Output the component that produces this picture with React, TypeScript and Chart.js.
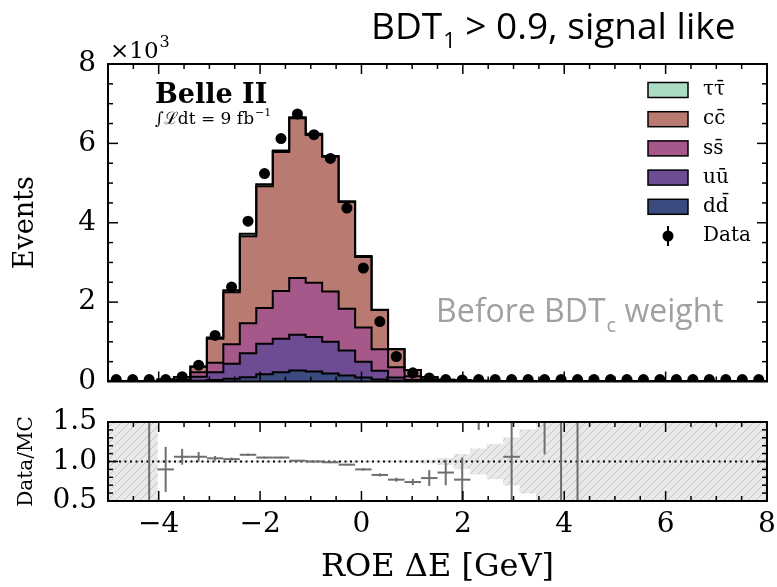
import React, { useEffect, useRef } from 'react';
import { Chart, registerables } from 'chart.js';

Chart.register(...registerables);

// ---------- data ----------
const binEdges = [-5, -4.675, -4.35, -4.025, -3.7, -3.375, -3.05, -2.725, -2.4, -2.075, -1.75, -1.425, -1.1, -0.775, -0.45, -0.125, 0.2, 0.525, 0.85, 1.175, 1.5, 1.825, 2.15, 2.475, 2.8, 3.125, 3.45, 3.775, 4.1, 4.425, 4.75, 5.075, 5.4, 5.725, 6.05, 6.375, 6.7, 7.025, 7.35, 7.675, 8];

const xTickValues = [-4, -2, 0, 2, 4, 6, 8];
const yTickValues = [0, 2, 4, 6, 8];
const ratioTickValues = [0.5, 1.0, 1.5];

// events per bin (x10^3)
const ddEvents = [0, 0, 0, 0, 0.005, 0.02, 0.04, 0.07, 0.11, 0.18, 0.23, 0.28, 0.25, 0.2, 0.15, 0.1, 0.05, 0.02, 0.01, 0.005, 0, 0, 0, 0, 0, 0, 0, 0, 0, 0, 0, 0, 0, 0, 0, 0, 0, 0, 0, 0];
const uuEvents = [0, 0, 0, 0.005, 0.01, 0.1, 0.19, 0.38, 0.6, 0.77, 0.85, 0.9, 0.87, 0.8, 0.63, 0.4, 0.22, 0.08, 0.03, 0.01, 0.01, 0.005, 0, 0, 0, 0, 0, 0, 0, 0, 0, 0, 0, 0, 0, 0, 0, 0, 0, 0];
const ssEvents = [0, 0, 0, 0.01, 0.02, 0.11, 0.24, 0.49, 0.76, 0.9, 1.2, 1.43, 1.37, 1.27, 1.05, 0.86, 0.54, 0.26, 0.09, 0.03, 0.01, 0.005, 0, 0, 0, 0, 0, 0, 0, 0, 0, 0, 0, 0, 0, 0, 0, 0, 0, 0];
const ccEvents = [0, 0, 0.002, 0.035, 0.075, 0.14, 0.61, 1.31, 2.19, 3.07, 3.5, 4.02, 3.72, 3.39, 2.69, 1.78, 0.99, 0.45, 0.16, 0.065, 0.027, 0.03, 0.02, 0.015, 0.01, 0.01, 0.008, 0.005, 0.005, 0, 0, 0, 0, 0, 0, 0, 0, 0, 0, 0];
const tautauEvents = [0, 0, 0, 0, 0, 0.01, 0.03, 0.05, 0.06, 0.05, 0.04, 0.03, 0.03, 0.02, 0.02, 0.02, 0.01, 0.01, 0, 0, 0, 0, 0, 0, 0, 0, 0, 0, 0, 0, 0, 0, 0, 0, 0, 0, 0, 0, 0, 0];
const dataEvents = [0.05, 0.05, 0.05, 0.05, 0.12, 0.41, 1.16, 2.38, 4.04, 5.24, 6.12, 6.74, 6.22, 5.62, 4.37, 2.86, 1.51, 0.63, 0.22, 0.09, 0.05, 0.04, 0.05, 0.05, 0.05, 0.05, 0.05, 0.05, 0.05, 0.05, 0.05, 0.05, 0.05, 0.05, 0.05, 0.05, 0.05, 0.05, 0.05, 0.05];

// Data/MC ratio per bin
const ratioValues = [null, null, 1.8, 0.9, 1.06, 1.06, 1.04, 1.03, 1.085, 1.05, 1.05, 1.01, 1.0, 0.99, 0.96, 0.9, 0.83, 0.77, 0.74, 0.79, 0.86, 0.77, 2.2, null, 1.06, null, 2.4, 2.5, 3.0, null, null, null, null, null, null, null, null, null, null, null];
const ratioErrors = [0, 0, 1.8, 0.285, 0.1, 0.06, 0.03, 0.02, 0.015, 0.012, 0.01, 0.01, 0.01, 0.01, 0.01, 0.015, 0.02, 0.025, 0.04, 0.1, 0.16, 0.28, 0.8, 0, 1.5, 0, 1.31, 2.5, 3.0, 0, 0, 0, 0, 0, 0, 0, 0, 0, 0, 0];
// relative MC statistical uncertainty per bin
const mcRelUnc = [1, 1, 1, 0.01, 0.01, 0.005, 0.005, 0.005, 0.005, 0.005, 0.005, 0.005, 0.005, 0.005, 0.005, 0.005, 0.005, 0.008, 0.01, 0.02, 0.04, 0.09, 0.16, 0.22, 0.3, 0.4, 0.6, 1, 1, 1, 1, 1, 1, 1, 1, 1, 1, 1, 1, 1];

const legendLabels = ['\u03c4\u03c4\u0304', 'cc\u0304', 'ss\u0304', 'u\u016b', 'dd\u0304'];

// ---------- styles ----------
const TAU_COLOR = '#a9dcc2';
const CC_COLOR = '#b97a72';
const SS_COLOR = '#a6588a';
const UU_COLOR = '#6d4c94';
const DD_COLOR = '#3c4b7f';
const RATIO_COLOR = '#6e6e6e';
const SERIF = '"DejaVu Serif", serif';
const SANS = '"Open Sans", "Noto Sans", sans-serif';

const binCenters = binEdges.slice(0, -1).map((e, i) => (e + binEdges[i + 1]) / 2);

function cumulative(...series: number[][]) {
  return series[0].map((_, i) => series.reduce((s, arr) => s + arr[i], 0));
}
function stepPoints(levels: number[]) {
  return binEdges.map((e, i) => ({ x: e, y: levels[Math.min(i, levels.length - 1)] }));
}

function makeFramePlugin(id: string, yMinorStep: number, yMajor: number[]) {
  return {
    id,
    afterDraw(chart: any) {
      const { ctx, chartArea: a, scales } = chart;
      const xs = scales.x;
      const ys = scales.y;
      ctx.save();
      ctx.strokeStyle = '#000';
      ctx.lineWidth = 1.5;
      const seg = (x1: number, y1: number, x2: number, y2: number) => {
        ctx.beginPath();
        ctx.moveTo(x1, y1);
        ctx.lineTo(x2, y2);
        ctx.stroke();
      };
      const nx = Math.round((xs.max - xs.min) / 0.5);
      for (let k = 1; k < nx; k++) {
        const v = xs.min + k * 0.5;
        const major = xTickValues.some((t) => Math.abs(t - v) < 1e-6);
        const len = major ? 10 : 5;
        const px = xs.getPixelForValue(v);
        seg(px, a.bottom, px, a.bottom - len);
        seg(px, a.top, px, a.top + len);
      }
      const ny = Math.round((ys.max - ys.min) / yMinorStep);
      for (let k = 1; k < ny; k++) {
        const v = ys.min + k * yMinorStep;
        const major = yMajor.some((t) => Math.abs(t - v) < 1e-6);
        const len = major ? 10 : 5;
        const py = ys.getPixelForValue(v);
        seg(a.left, py, a.left + len, py);
        seg(a.right, py, a.right - len, py);
      }
      ctx.lineWidth = 2;
      ctx.strokeRect(a.left, a.top, a.right - a.left, a.bottom - a.top);
      ctx.restore();
    },
  };
}

const topDecor = {
  id: 'topDecor',
  afterDraw(chart: any) {
    const { ctx, chartArea: a } = chart;
    ctx.save();
    ctx.textAlign = 'left';
    ctx.textBaseline = 'alphabetic';
    ctx.fillStyle = '#000';

    // title
    let x = 371;
    ctx.font = `37px ${SANS}`;
    ctx.fillText('BDT', x, 39);
    x += ctx.measureText('BDT').width;
    ctx.font = `22px ${SANS}`;
    ctx.fillText('1', x + 1, 48);
    x += ctx.measureText('1').width + 1;
    ctx.font = `37px ${SANS}`;
    ctx.fillText(' > 0.9, signal like', x, 39);

    // x10^3
    ctx.font = `23px ${SERIF}`;
    ctx.fillText('\u00d710', a.left + 2, a.top - 6);
    const w10 = ctx.measureText('\u00d710').width;
    ctx.font = `16px ${SERIF}`;
    ctx.fillText('3', a.left + 3 + w10, a.top - 17);

    // Belle II
    ctx.font = `bold 27px ${SERIF}`;
    ctx.fillText('Belle II', a.left + 47, a.top + 39);
    ctx.font = `17px ${SERIF}`;
    ctx.fillText('\u222b\u2112dt = 9 fb', a.left + 47, a.top + 60);
    const wl = ctx.measureText('\u222b\u2112dt = 9 fb').width;
    ctx.font = `11px ${SERIF}`;
    ctx.fillText('\u22121', a.left + 48 + wl, a.top + 52);

    // Before BDT_c weight
    ctx.fillStyle = '#a0a0a0';
    let bx = 436;
    ctx.font = `32px ${SANS}`;
    ctx.fillText('Before BDT', bx, 322);
    bx += ctx.measureText('Before BDT').width;
    ctx.font = `20px ${SANS}`;
    ctx.fillText('c', bx + 1, 332);
    bx += ctx.measureText('c').width + 1;
    ctx.font = `32px ${SANS}`;
    ctx.fillText(' weight', bx, 322);

    // legend
    const colors = [TAU_COLOR, CC_COLOR, SS_COLOR, UU_COLOR, DD_COLOR];
    const y0 = 90;
    const dy = 29.2;
    ctx.lineWidth = 1.5;
    ctx.strokeStyle = '#000';
    ctx.font = `20px ${SERIF}`;
    ctx.textBaseline = 'middle';
    colors.forEach((c, i) => {
      const yc = y0 + i * dy;
      ctx.fillStyle = c;
      ctx.fillRect(648, yc - 7.5, 40, 15);
      ctx.strokeRect(648, yc - 7.5, 40, 15);
      ctx.fillStyle = '#000';
      ctx.fillText(legendLabels[i], 703, yc);
    });
    const yd = y0 + 5 * dy;
    ctx.fillStyle = '#000';
    ctx.lineWidth = 2;
    ctx.beginPath();
    ctx.moveTo(668, yd - 10);
    ctx.lineTo(668, yd + 10);
    ctx.stroke();
    ctx.beginPath();
    ctx.arc(668, yd, 5.5, 0, Math.PI * 2);
    ctx.fill();
    ctx.fillText('Data', 703, yd);
    ctx.restore();
  },
};

const errorBars = {
  id: 'errorBars',
  afterDatasetsDraw(chart: any) {
    const { ctx, chartArea: a, scales } = chart;
    const xs = scales.x;
    const ys = scales.y;
    ctx.save();
    ctx.beginPath();
    ctx.rect(a.left, a.top, a.right - a.left, a.bottom - a.top);
    ctx.clip();
    ctx.strokeStyle = RATIO_COLOR;
    ctx.lineWidth = 2;
    ratioValues.forEach((v, i) => {
      if (v == null) return;
      const px = xs.getPixelForValue(binCenters[i]);
      ctx.beginPath();
      ctx.moveTo(px, ys.getPixelForValue(v - ratioErrors[i]));
      ctx.lineTo(px, ys.getPixelForValue(v + ratioErrors[i]));
      ctx.stroke();
    });
    ctx.restore();
  },
};

const tickFont = { family: SERIF, size: 28 };
const hiddenTickGrid = (len: number) => ({
  display: true,
  drawOnChartArea: false,
  drawTicks: true,
  tickLength: len,
  tickColor: 'rgba(0,0,0,0)',
});

export default function App() {
  const topRef = useRef<HTMLCanvasElement>(null);
  const botRef = useRef<HTMLCanvasElement>(null);

  useEffect(() => {
    if (!topRef.current || !botRef.current) return;

    const lvDD = cumulative(ddEvents);
    const lvUU = cumulative(ddEvents, uuEvents);
    const lvSS = cumulative(ddEvents, uuEvents, ssEvents);
    const lvCC = cumulative(ddEvents, uuEvents, ssEvents, ccEvents);
    const lvTau = cumulative(ddEvents, uuEvents, ssEvents, ccEvents, tautauEvents);

    const stepStyle = { stepped: true, borderColor: '#000', borderWidth: 2, pointRadius: 0, borderJoinStyle: 'miter' as const };

    const top = new Chart(topRef.current, {
      type: 'line',
      data: {
        datasets: [
          {
            label: 'Data',
            data: binCenters.map((c, i) => ({ x: c, y: dataEvents[i] })),
            showLine: false,
            pointRadius: 5.5,
            pointBackgroundColor: '#000',
            pointBorderColor: '#000',
            pointBorderWidth: 0,
          },
          { label: legendLabels[0], data: stepPoints(lvTau), backgroundColor: TAU_COLOR, fill: '+1', ...stepStyle },
          { label: legendLabels[1], data: stepPoints(lvCC), backgroundColor: CC_COLOR, fill: '+1', ...stepStyle },
          { label: legendLabels[2], data: stepPoints(lvSS), backgroundColor: SS_COLOR, fill: '+1', ...stepStyle },
          { label: legendLabels[3], data: stepPoints(lvUU), backgroundColor: UU_COLOR, fill: '+1', ...stepStyle },
          { label: legendLabels[4], data: stepPoints(lvDD), backgroundColor: DD_COLOR, fill: 'origin', ...stepStyle },
        ] as any,
      },
      options: {
        animation: false,
        responsive: false,
        devicePixelRatio: 1,
        events: [],
        layout: { padding: { left: 8, right: 10, top: 64, bottom: 18.5 } },
        plugins: {
          legend: { display: false },
          tooltip: { enabled: false },
          filler: { drawTime: 'beforeDatasetsDraw' },
        } as any,
        scales: {
          x: {
            type: 'linear',
            min: -5,
            max: 8,
            afterBuildTicks: (s: any) => { s.ticks = xTickValues.map((v) => ({ value: v })); },
            ticks: { display: false },
            grid: { display: false },
            border: { display: false },
            afterFit: (s: any) => { s.height = 0; },
          },
          y: {
            type: 'linear',
            min: 0,
            max: 8,
            afterBuildTicks: (s: any) => { s.ticks = yTickValues.map((v) => ({ value: v })); },
            ticks: { font: tickFont, color: '#000', padding: 0, callback: (v: any) => String(v) },
            grid: hiddenTickGrid(12),
            border: { display: false },
            title: { display: true, text: 'Events', color: '#000', font: { family: SERIF, size: 27 }, padding: { top: 2, bottom: 0 } },
            afterFit: (s: any) => { s.width = 100; },
          },
        },
      },
      plugins: [makeFramePlugin('frameTop', 0.5, yTickValues), topDecor],
    });

    // hatch pattern for MC uncertainty band
    const pc = document.createElement('canvas');
    pc.width = 8;
    pc.height = 8;
    const p = pc.getContext('2d')!;
    p.fillStyle = '#e9e9e9';
    p.fillRect(0, 0, 8, 8);
    p.strokeStyle = '#c6c6c6';
    p.lineWidth = 1;
    p.beginPath();
    p.moveTo(0, 8); p.lineTo(8, 0);
    p.moveTo(-4, 4); p.lineTo(4, -4);
    p.moveTo(4, 12); p.lineTo(12, 4);
    p.stroke();
    const pattern = botRef.current.getContext('2d')!.createPattern(pc, 'repeat');

    const ratioPoints: { x: number; y: number }[] = [];
    ratioValues.forEach((v, i) => { if (v != null) ratioPoints.push({ x: binCenters[i], y: v }); });

    const bot = new Chart(botRef.current, {
      type: 'bar',
      data: {
        datasets: [
          {
            type: 'line',
            label: 'Data/MC',
            data: ratioPoints,
            showLine: false,
            pointStyle: 'line',
            pointRadius: (ctx: any) => {
              const xs = ctx.chart.scales.x;
              return Math.abs(xs.getPixelForValue(binEdges[1]) - xs.getPixelForValue(binEdges[0])) / 2;
            },
            pointBorderColor: RATIO_COLOR,
            pointBorderWidth: 2,
          },
          {
            type: 'line',
            label: 'unity',
            data: [{ x: -5, y: 1 }, { x: 8, y: 1 }],
            borderColor: '#000',
            borderWidth: 2,
            borderDash: [2, 3.5],
            pointRadius: 0,
          },
          {
            type: 'bar',
            label: 'MC stat. unc.',
            data: binCenters.map((c, i) => ({ x: c, y: [1 - mcRelUnc[i], 1 + mcRelUnc[i]] })),
            backgroundColor: pattern as any,
            borderWidth: 0,
            barPercentage: 1,
            categoryPercentage: 1,
          },
        ] as any,
      },
      options: {
        animation: false,
        responsive: false,
        devicePixelRatio: 1,
        events: [],
        layout: { padding: { left: 8, right: 10, top: 22, bottom: 0 } },
        plugins: { legend: { display: false }, tooltip: { enabled: false } },
        scales: {
          x: {
            type: 'linear',
            min: -5,
            max: 8,
            offset: false,
            afterBuildTicks: (s: any) => { s.ticks = xTickValues.map((v) => ({ value: v })); },
            ticks: {
              font: tickFont,
              color: '#000',
              padding: 0,
              maxRotation: 0,
              callback: (v: any) => (v < 0 ? '\u2212' + Math.abs(v) : String(v)),
            },
            grid: hiddenTickGrid(7),
            border: { display: false },
            title: { display: true, text: 'ROE \u0394E [GeV]', color: '#000', font: { family: SERIF, size: 32 }, padding: { top: 0, bottom: 0 } },
            afterFit: (s: any) => { s.height = 86; },
          },
          y: {
            type: 'linear',
            min: 0.5,
            max: 1.5,
            afterBuildTicks: (s: any) => { s.ticks = ratioTickValues.map((v) => ({ value: v })); },
            ticks: { font: tickFont, color: '#000', padding: 0, callback: (v: any) => Number(v).toFixed(1) },
            grid: hiddenTickGrid(11),
            border: { display: false },
            title: { display: true, text: 'Data/MC', color: '#000', font: { family: SERIF, size: 20 }, padding: { top: 7, bottom: 0 } },
            afterFit: (s: any) => { s.width = 100; },
          },
        },
      },
      plugins: [makeFramePlugin('frameBot', 0.1, ratioTickValues), errorBars],
    });

    return () => {
      top.destroy();
      bot.destroy();
    };
  }, []);

  return (
    <div style={{ position: 'fixed', left: 0, top: 0, width: 777, height: 587, background: '#fff' }}>
      <canvas ref={topRef} width={777} height={400} style={{ position: 'absolute', left: 0, top: 0, width: 777, height: 400 }} />
      <canvas ref={botRef} width={777} height={187} style={{ position: 'absolute', left: 0, top: 400, width: 777, height: 187 }} />
    </div>
  );
}
